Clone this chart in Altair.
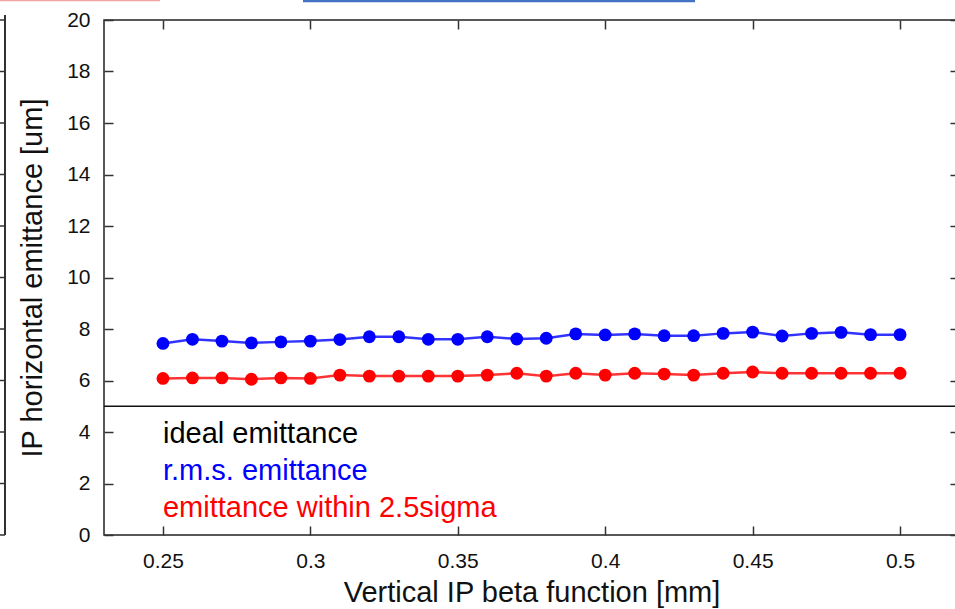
import altair as alt
import pandas as pd

# Vertical IP beta function [mm]
beta = [0.25, 0.26, 0.27, 0.28, 0.29, 0.30, 0.31, 0.32, 0.33, 0.34, 0.35, 0.36, 0.37,
        0.38, 0.39, 0.40, 0.41, 0.42, 0.43, 0.44, 0.45, 0.46, 0.47, 0.48, 0.49, 0.50]
# r.m.s. horizontal emittance [um]
rms_emit = [7.44, 7.60, 7.53, 7.46, 7.50, 7.53, 7.59, 7.70, 7.70, 7.60, 7.60, 7.70, 7.61,
            7.64, 7.81, 7.77, 7.81, 7.74, 7.74, 7.83, 7.88, 7.73, 7.83, 7.87, 7.78, 7.78]
# emittance within 2.5 sigma [um]
core_emit = [6.08, 6.10, 6.10, 6.05, 6.10, 6.08, 6.21, 6.17, 6.17, 6.17, 6.17, 6.21, 6.28,
             6.17, 6.28, 6.21, 6.28, 6.25, 6.21, 6.28, 6.33, 6.28, 6.28, 6.28, 6.28, 6.28]
ideal_emit = [5.0]

series_names = ["r.m.s. emittance", "emittance within 2.5sigma"]
series_colors = ["#0000ff", "#ff0000"]

legend_labels = ["ideal emittance", "r.m.s. emittance", "emittance within 2.5sigma"]
legend_colors = ["#000000", "#0000ff", "#ff0000"]
legend_y = [3.57, 2.14, 0.71]
legend_x = [0.25, 0.25, 0.25]

y_ticks = list(range(0, 21, 2))
x_ticks = [0.25, 0.3, 0.35, 0.4, 0.45, 0.5]

FONT = "Liberation Sans"
W, H = 855, 515

df = pd.DataFrame({
    "beta": beta * 2,
    "emit": rms_emit + core_emit,
    "series": [series_names[0]] * len(beta) + [series_names[1]] * len(beta),
})
ideal_df = pd.DataFrame({"ideal": ideal_emit})
legend_df = pd.DataFrame({"x": legend_x, "y": legend_y, "label": legend_labels, "c": legend_colors})
ytick_df = pd.DataFrame({"t": y_ticks})

xscale = alt.Scale(domain=[0.23, 0.52], nice=False, zero=False)
yscale = alt.Scale(domain=[0, 20], nice=False)
cscale = alt.Scale(domain=series_names, range=series_colors)

tick_style = dict(tickSize=9, offset=-9, domain=False, tickColor="#333333", tickWidth=1.5,
                  grid=False, labelFont=FONT, labelFontSize=21, labelColor="#111111",
                  titleFont=FONT, titleFontSize=29, titleFontWeight="normal", titleColor="#111111")

x_bottom = alt.Axis(values=x_ticks, labelPadding=15, title="Vertical IP beta function [mm]",
                    titlePadding=7, labelFlush=False, format="~g", **tick_style)
y_left = alt.Axis(values=y_ticks, labelPadding=14, title="IP horizontal emittance [um]",
                  titlePadding=19, **tick_style)
x_top = alt.Axis(orient="top", values=x_ticks, labels=False, title=None, **tick_style)
y_right = alt.Axis(orient="right", values=y_ticks, labels=False, title=None, **tick_style)

lines = alt.Chart(df).mark_line(strokeWidth=2.5, opacity=0.8).encode(
    x=alt.X("beta:Q", scale=xscale, axis=x_bottom),
    y=alt.Y("emit:Q", scale=yscale, axis=y_left),
    color=alt.Color("series:N", scale=cscale, legend=None),
    detail="series:N",
)

points = alt.Chart(df).mark_circle(size=165, opacity=1).encode(
    x=alt.X("beta:Q", scale=xscale, axis=None),
    y=alt.Y("emit:Q", scale=yscale, axis=None),
    color=alt.Color("series:N", scale=cscale, legend=None),
)

ideal = alt.Chart(ideal_df).mark_rule(color="#111111", strokeWidth=1.5).encode(
    y=alt.Y("ideal:Q", scale=yscale, axis=None),
)

legend_text = alt.Chart(legend_df).mark_text(
    align="left", baseline="alphabetic", font=FONT, fontSize=29
).encode(
    x=alt.X("x:Q", scale=xscale, axis=None),
    y=alt.Y("y:Q", scale=yscale, axis=None),
    text="label:N",
    color=alt.Color("c:N", scale=None),
)

# mirrored ticks along the top and right edges of the frame
mirror = alt.Chart(df).mark_point(opacity=0).encode(
    x=alt.X("beta:Q", scale=xscale, axis=x_top),
    y=alt.Y("emit:Q", scale=yscale, axis=y_right),
)

# edge of the neighbouring panel on the left, with its ticks
side_frame = alt.Chart(ytick_df).mark_rule(color="#333333", strokeWidth=1.5).encode(
    x=alt.value(-99), y=alt.value(-5), y2=alt.value(H)
)
side_ticks = alt.Chart(ytick_df).mark_rule(color="#333333", strokeWidth=1.5).encode(
    y=alt.Y("t:Q", scale=yscale, axis=None), x=alt.value(-104), x2=alt.value(-99)
)

# underlines of the slide headings above the plot
pink_bar = alt.Chart(ideal_df).mark_rule(color="#f4a3a3", strokeWidth=1.5).encode(
    x=alt.value(-104), x2=alt.value(56), y=alt.value(-19.5)
)
blue_bar = alt.Chart(ideal_df).mark_rule(color="#4472c4", strokeWidth=2.5).encode(
    x=alt.value(199), x2=alt.value(591), y=alt.value(-19)
)

chart = alt.layer(
    lines, points, ideal, legend_text, mirror, side_frame, side_ticks, pink_bar, blue_bar
).resolve_axis(
    x="independent", y="independent"
).properties(
    width=W, height=H,
    autosize=alt.AutoSizeParams(type="none"),
    padding={"left": 104, "top": 20, "right": -4, "bottom": 74},
    background="white",
).configure_view(
    stroke="#222222", strokeWidth=1.5
)

chart.save("out.html", embed_options={"renderer": "svg", "actions": False})
